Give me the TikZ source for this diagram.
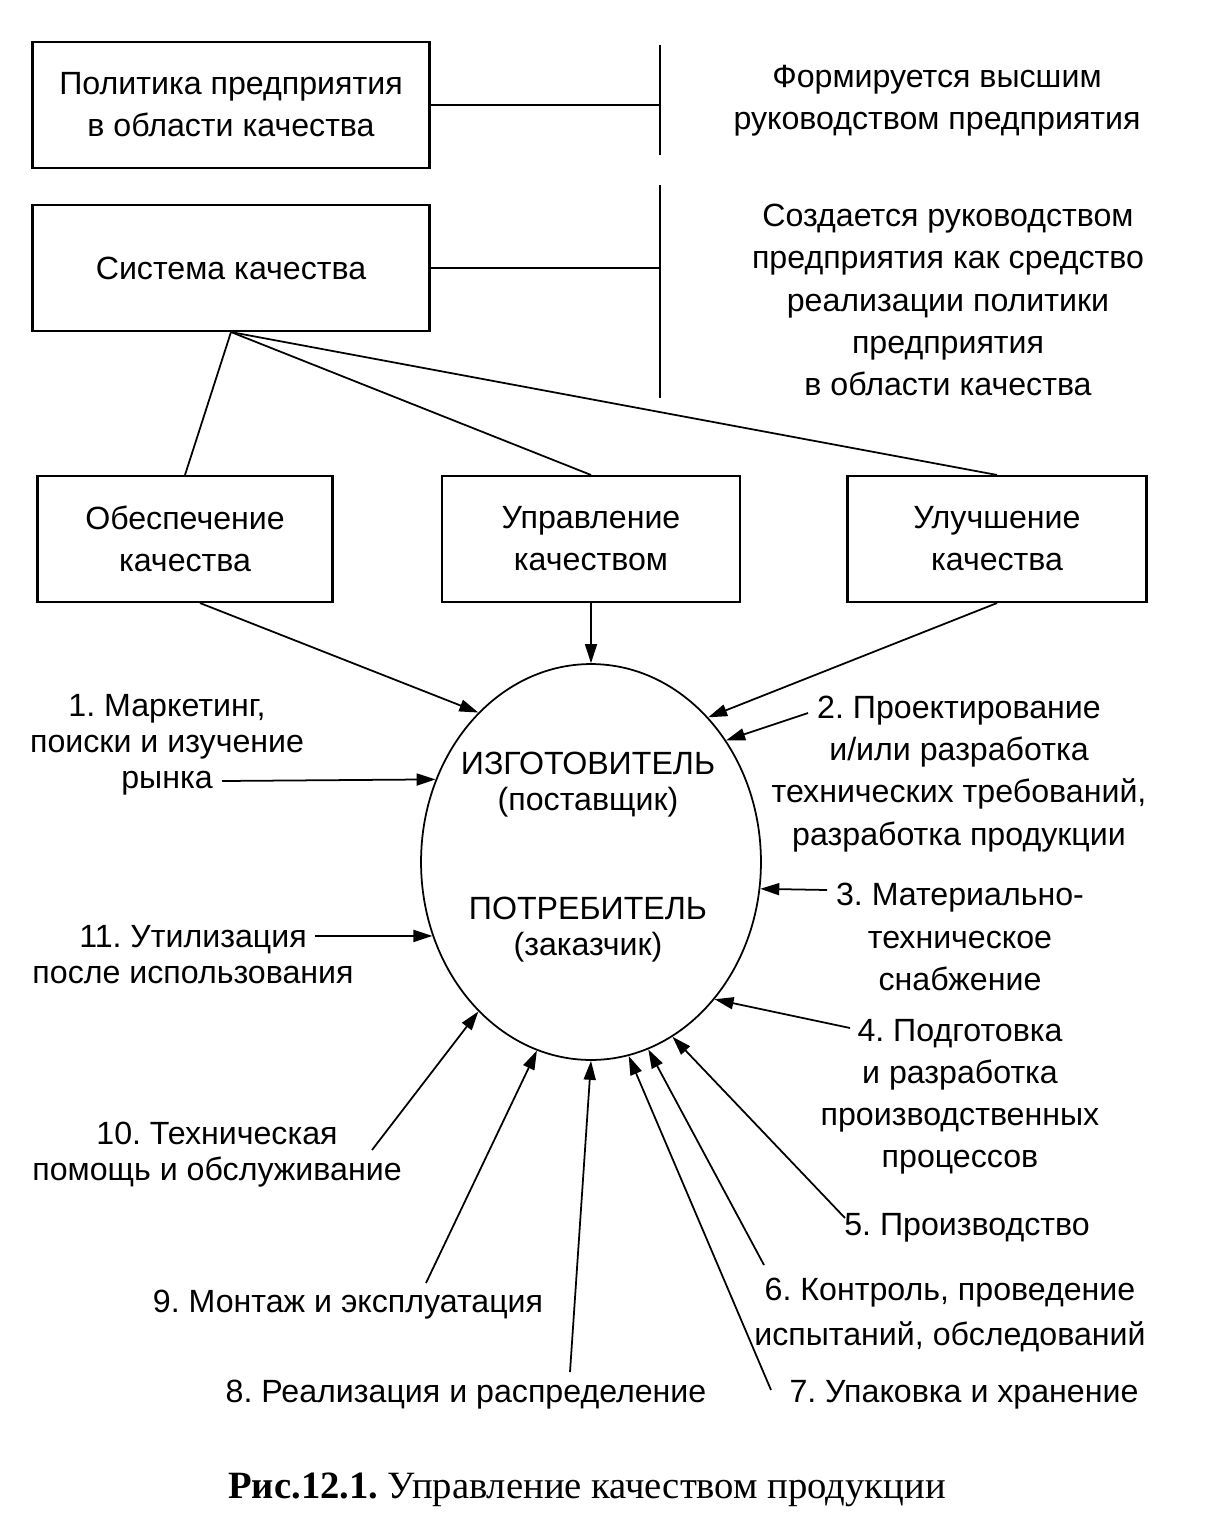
\documentclass[tikz,border=0pt]{standalone}
\usepackage{fontspec}
\setmainfont{Liberation Sans}
\newfontfamily\capfont{Liberation Serif}
\usetikzlibrary{arrows.meta,shapes.geometric}
\frenchspacing
\newcommand\lbl{\fontsize{18.3}{24}\selectfont}
\newcommand\lbltight{\fontsize{18.3}{20.5}\selectfont}
\tikzset{
  qbox/.style={draw,line width=1.2pt,minimum height=2.52cm,align=center,
    font=\lbl,inner sep=2pt},
  note/.style={align=center,font=\lbl,inner sep=0pt},
  tnote/.style={note,font=\lbltight},
  link/.style={line width=1pt},
  arr/.style={link,-{Triangle[length=0.38cm,width=0.24cm]}}
}

\begin{document}
\begin{tikzpicture}[x=0.02cm,y=-0.02cm]
\useasboundingbox (0,0) rectangle (1210,1529);
% boxes
\node[qbox,minimum width=7.94cm] (pol) at (231,105) {Политика предприятия\\в области качества};
\node[qbox,minimum width=7.94cm] (sys) at (231,268) {Система качества};
\node[qbox,minimum width=5.9cm] (obe) at (185,539) {Обеспечение\\качества};
\node[qbox,minimum width=5.96cm] (upr) at (591,539) {Управление\\качеством};
\node[qbox,minimum width=5.98cm] (ulu) at (997,539) {Улучшение\\качества};
% separators and their notes
\coordinate (v1top) at (660,45);
\coordinate (v1bot) at (660,155);
\coordinate (v2top) at (660,185);
\coordinate (v2bot) at (660,398);
\draw[link] (v1top) -- (v1bot);
\draw[link] (v2top) -- (v2bot);
\draw[link] (pol.east) -- (pol.east -| v1top);
\draw[link] (sys.east) -- (sys.east -| v2top);
\node[note] (form) at (937,101) {Формируется высшим\\руководством предприятия};
\node[note] (sozd) at (948,300) {Создается руководством\\предприятия как средство\\реализации политики\\предприятия\\в области качества};
\foreach \b in {obe,upr,ulu}
  \draw[link] (sys.south) -- (\b.north);
% center
\node[draw,ellipse,line width=1pt,minimum width=6.8cm,minimum height=7.92cm,inner sep=0pt] (ell) at (591,862) {};
\node[tnote] (izg) at (588,785) {ИЗГОТОВИТЕЛЬ\\(поставщик)};
\node[tnote] (potr) at (588,930) {ПОТРЕБИТЕЛЬ\\(заказчик)};
\draw[arr] ([xshift=0.3cm]obe.south) -- (ell.127.7);
\draw[arr] (upr.south) -- (ell.90);
\draw[arr] (ulu.south) -- (ell.51.5);
% stages
\node[tnote] (t1) at (167,745) {1. Маркетинг,\\поиски и изучение\\рынка};
\node[note] (t2) at (959,774) {2. Проектирование\\и/или разработка\\технических требований,\\разработка продукции};
\node[note] (t3) at (960,937) {3. Материально-\\техническое\\снабжение};
\node[note] (t4) at (960,1097) {4. Подготовка\\и разработка\\производственных\\процессов};
\node[note] (t5) at (967,1228) {5. Производство};
\node[note,font=\fontsize{18.3}{25.5}\selectfont] (t6) at (950,1315) {6. Контроль, проведение\\испытаний, обследований};
\node[note] (t7) at (964,1395) {7. Упаковка и хранение};
\node[note] (t8) at (466,1395) {8. Реализация и распределение};
\node[note] (t9) at (348,1305) {9. Монтаж и эксплуатация};
\node[tnote] (t10) at (217,1155) {10. Техническая\\помощь и обслуживание};
\node[tnote] (t11) at (193,955) {11. Утилизация\\после использования};
\foreach \n/\x/\y in {1/222/781,2/808/713,3/827/890,4/850/1028,5/845/1218,6/764/1265,
    7/771/1390,8/570/1372,9/426/1283,10/372/1150,11/315/936}
  \coordinate (s\n) at (\x,\y);
\foreach \n/\a in {1/152.3,2/42.8,3/-9.4,4/-48.6,5/-65.5,6/-73,7/-79.3,8/-90,
    9/-106.6,10/-127.4,11/205}
  \draw[arr] (s\n) -- (ell.\a);
% caption
\node[font=\capfont\fontsize{22}{26}\selectfont] (cap) at (587,1490) {\textbf{Рис.12.1.} Управление качеством продукции};
\end{tikzpicture}
\end{document}
